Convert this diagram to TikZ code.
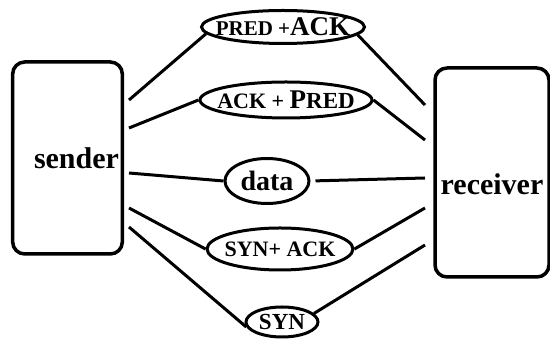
\documentclass[tikz,border=0pt]{standalone}
\usepackage{fontspec}
\setmainfont{Liberation Serif}
\usetikzlibrary{shapes.geometric}
\newcommand\msgtext[1]{\makebox[0pt]{#1}}
\newcommand\fs[1]{\fontsize{#1}{#1}\selectfont}

\begin{document}
\begin{tikzpicture}[x=1pt, y=1pt,
  every node/.style={font=\bfseries},
  host/.style={draw, line width=3.5pt, rounded corners=12pt, font=\bfseries\fs{30}},
  msg/.style={draw, ellipse, line width=3pt, inner sep=0pt},
  link/.style={line width=3pt}]
  \useasboundingbox (0,0) rectangle (550,342);
  \node[host, minimum width=107, minimum height=192] (sender) at (67.5,184) {\hspace*{18pt}sender};
  \node[host, minimum width=114, minimum height=209] (receiver) at (492,169.5) {\raisebox{-22pt}[0pt][0pt]{receiver}};
  \node[msg, minimum width=163, minimum height=33] (prack) at (283,315) {\msgtext{\fs{21}PRED +\fs{27}ACK}};
  \node[msg, minimum width=172, minimum height=36] (ackpr) at (286,242) {\msgtext{\fs{22}ACK + \fs{27}P\fs{23}RED}};
  \node[msg, minimum width=84, minimum height=45] (data) at (267,161) {\msgtext{\fs{28}data}};
  \node[msg, minimum width=146, minimum height=42] (synack) at (280,93) {\msgtext{\fs{22}SYN+ ACK}};
  \node[msg, minimum width=72, minimum height=30] (syn) at (282,20) {\msgtext{\fs{23}SYN}};
  \coordinate (s1) at (129,242);
  \coordinate (s2) at (129,214);
  \coordinate (s3) at (129,169);
  \coordinate (s4) at (129,134);
  \coordinate (s5) at (129,115);
  \coordinate (r1) at (425,237);
  \coordinate (r2) at (425,202);
  \coordinate (r3) at (425,164);
  \coordinate (r4) at (425,134);
  \coordinate (r5) at (425,97);
  \draw[link] (s1) -- (prack.185);
  \draw[link] (prack.-6) -- (r1);
  \draw[link] (s2) -- (ackpr.west);
  \draw[link] (ackpr.east) -- (r2);
  \draw[link] (s3) -- (data.west);
  \draw[link, shorten <=5pt] (data.east) -- (r3);
  \draw[link] (s4) -- (synack.west);
  \draw[link] (synack.east) -- (r4);
  \draw[link] (s5) -- (syn.188);
  \draw[link] (syn.15) -- (r5);
\end{tikzpicture}
\end{document}
